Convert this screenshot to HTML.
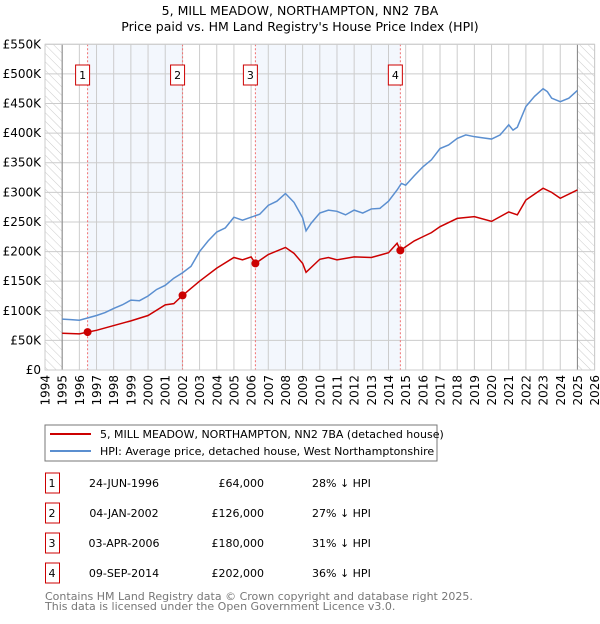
<!DOCTYPE html>
<html><head><meta charset="utf-8"><style>
body{margin:0;background:#fff;font-family:"DejaVu Sans","Liberation Sans",sans-serif;}
svg text{font-family:"DejaVu Sans","Liberation Sans",sans-serif;}
</style></head><body>
<svg id="c" width="600" height="620" xmlns="http://www.w3.org/2000/svg">
<defs><pattern id="hatch" width="6" height="6" patternUnits="userSpaceOnUse" patternTransform="rotate(-45)"><line x1="0" y1="0" x2="0" y2="6" stroke="#ccc" stroke-width="1"/></pattern></defs>
<text x="300" y="15" text-anchor="middle" font-size="12.5">5, MILL MEADOW, NORTHAMPTON, NN2 7BA</text>
<text x="300" y="31" text-anchor="middle" font-size="12.5">Price paid vs. HM Land Registry's House Price Index (HPI)</text>
<g id="plot"></g>
<rect x="45" y="425" width="392" height="36" fill="#fff" stroke="#777"/>
<line x1="50" y1="434" x2="91" y2="434" stroke="#cc0000" stroke-width="2"/>
<text x="100" y="438" font-size="11">5, MILL MEADOW, NORTHAMPTON, NN2 7BA (detached house)</text>
<line x1="50" y1="451" x2="91" y2="451" stroke="#5b8fd0" stroke-width="2"/>
<text x="100" y="455" font-size="11">HPI: Average price, detached house, West Northamptonshire</text>
<g id="tbl"></g>
<text x="45" y="600" font-size="11" fill="#777">Contains HM Land Registry data © Crown copyright and database right 2025.</text>
<text x="45" y="610" font-size="11" fill="#777">This data is licensed under the Open Government Licence v3.0.</text>
</svg>
<script>
const hpiYears=[1995,1995.5,1996,1996.5,1997,1997.5,1998,1998.5,1999,1999.5,2000,2000.5,2001,2001.5,2002,2002.5,2003,2003.5,2004,2004.5,2005,2005.5,2006,2006.5,2007,2007.5,2008,2008.5,2009,2009.2,2009.5,2010,2010.5,2011,2011.5,2012,2012.5,2013,2013.5,2014,2014.5,2014.75,2015,2015.5,2016,2016.5,2017,2017.5,2018,2018.5,2019,2019.5,2020,2020.5,2021,2021.25,2021.5,2022,2022.5,2023,2023.25,2023.5,2024,2024.5,2025];
const hpiValues=[86,85,84,88,92,97,104,110,118,117,125,136,143,155,164,175,200,218,233,240,258,253,258,263,278,285,298,283,257,235,248,265,270,268,262,270,265,272,273,285,304,315,312,328,343,355,374,380,391,397,394,392,390,397,414,405,410,445,462,475,470,459,453,459,472];
const ppYears=[1995,1996,1996.48,1997,1998,1999,2000,2001,2001.5,2002.01,2003,2004,2005,2005.5,2006,2006.25,2007,2008,2008.5,2009,2009.2,2010,2010.5,2011,2012,2013,2014,2014.5,2014.69,2015.5,2016,2016.5,2017,2018,2019,2020,2021,2021.5,2022,2023,2023.5,2024,2025];
const ppValues=[62,61,64,67,75,83,92,110,112,126,150,172,190,186,191,180,195,207,197,180,165,187,190,186,191,190,198,214,202,218,225,232,242,256,259,251,267,262,287,307,300,290,304];
const saleLabels=["1","2","3","4"];
const saleYears=[1996.48,2002.01,2006.25,2014.69];
const saleValues=[64,126,180,202];
const saleDates=["24-JUN-1996","04-JAN-2002","03-APR-2006","09-SEP-2014"];
const salePrices=["£64,000","£126,000","£180,000","£202,000"];
const saleDiffs=["28% ↓ HPI","27% ↓ HPI","31% ↓ HPI","36% ↓ HPI"];
const yTicks=[0,50,100,150,200,250,300,350,400,450,500,550];
const yTickLabels=["£0","£50K","£100K","£150K","£200K","£250K","£300K","£350K","£400K","£450K","£500K","£550K"];
const xTicks=[1994,1995,1996,1997,1998,1999,2000,2001,2002,2003,2004,2005,2006,2007,2008,2009,2010,2011,2012,2013,2014,2015,2016,2017,2018,2019,2020,2021,2022,2023,2024,2025,2026];

const NS="http://www.w3.org/2000/svg";
const L=45,R=594.6,T=44.3,B=370;
const X=y=>L+(y-1994)/32*(R-L);
const Y=v=>B-v/550*(B-T);
const g=document.getElementById('plot');
function mk(tag,at,par){const e=document.createElementNS(NS,tag);for(const k in at)e.setAttribute(k,at[k]);(par||g).appendChild(e);return e;}
// shaded bands
for(let i=0;i<saleYears.length;i+=2){
 const b=mk('rect',{x:X(saleYears[i]),y:T,width:X(saleYears[i+1])-X(saleYears[i]),height:B-T,fill:'#eef3fc',opacity:0.7});
 
 
}
// hatched
const h1=mk('rect',{x:L,y:T,width:X(1995)-L,height:B-T,fill:'url(#hatch)'});


const h2=mk('rect',{x:X(2025),y:T,width:R-X(2025),height:B-T,fill:'url(#hatch)'});


// grid
yTicks.forEach((v,i)=>{
 const l=mk('line',{x1:L,x2:R,y1:Y(v),y2:Y(v),stroke:'#ccc'});
 
 
 const t=mk('text',{x:L-4,y:Y(v)+4,'text-anchor':'end','font-size':12});
 t.textContent=yTickLabels[i];
 
 
});
xTicks.forEach(yr=>{
 const l=mk('line',{x1:X(yr),x2:X(yr),y1:T,y2:B,stroke:'#ccc'});
 
 
 const t=mk('text',{x:0,y:0,'text-anchor':'end','font-size':12,transform:`translate(${X(yr)+4.5},${B+5}) rotate(-90)`});
 t.textContent=yr;
 
 
});
const a1=mk('line',{x1:X(1995),x2:X(1995),y1:T,y2:B,stroke:'#888'});


const a2=mk('line',{x1:X(2025),x2:X(2025),y1:T,y2:B,stroke:'#888'});


// sale vlines & labels
saleYears.forEach((yr,i)=>{
 const l=mk('line',{x1:X(yr),x2:X(yr),y1:T,y2:B,stroke:'#f07070','stroke-dasharray':'2,2'});
 
 
 const r=mk('rect',{x:X(yr)-7-5,y:65,width:14,height:20,fill:'#fff',stroke:'#cc0000'});
 
 
 const t=mk('text',{x:X(yr)-5,y:79,'text-anchor':'middle','font-size':11});
 t.textContent=saleLabels[i];
 
 
});
// lines
const hp=mk('polyline',{points:hpiYears.map((y,i)=>X(y)+','+Y(hpiValues[i]*1000/1000)).join(' '),fill:'none',stroke:'#5b8fd0','stroke-width':1.5});


const pp=mk('polyline',{points:ppYears.map((y,i)=>X(y)+','+Y(ppValues[i])).join(' '),fill:'none',stroke:'#cc0000','stroke-width':1.5});


saleYears.forEach((yr,i)=>{
 const c=mk('circle',{cx:X(yr),cy:Y(saleValues[i]),r:4,fill:'#cc0000'});
 
 
});
const fr=mk('rect',{x:L,y:T,width:R-L,height:B-T,fill:'none',stroke:'#ccc'});


// table
const tb=document.getElementById('tbl');
saleLabels.forEach((s,i)=>{
 const cy=483+i*30;
 const r=mk('rect',{x:45.5,y:cy-10,width:14,height:20,fill:'#fff',stroke:'#cc0000'},tb);
 
 
 const cols=[[52,s,'middle'],[124,saleDates[i],'middle'],[264,salePrices[i],'end'],[312,saleDiffs[i],'start']];
 cols.forEach(([x,txt,an],j)=>{
  const t=mk('text',{x:x,y:cy+4,'text-anchor':an,'font-size':11},tb);
  t.textContent=txt;
  
  
 });
});
</script>
</body></html>
